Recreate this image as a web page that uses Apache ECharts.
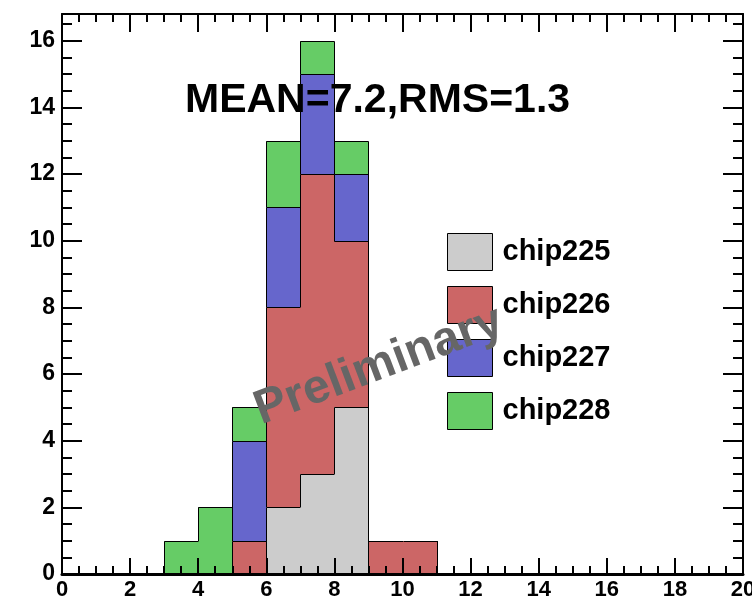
<!DOCTYPE html>
<html>
<head>
<meta charset="utf-8">
<script src="https://cdn.jsdelivr.net/npm/echarts@6/dist/echarts.min.js"></script>
<style>
  html, body { margin: 0; padding: 0; background: #fff; }
  #main { width: 752px; height: 599px; }
</style>
</head>
<body>
<div id="main"></div>
<script>
// bins of width 1, lower edges
var binStart = [3, 4, 5, 6, 7, 8, 9, 10];
var chip225 = [0, 0, 0, 2, 3, 5, 0, 0];
var chip226 = [0, 0, 1, 6, 9, 5, 1, 1];
var chip227 = [0, 0, 3, 3, 3, 2, 0, 0];
var chip228 = [1, 2, 1, 2, 1, 1, 0, 0];
var names = ['chip225', 'chip226', 'chip227', 'chip228'];
var colors = ['#cccccc', '#cc6666', '#6666cc', '#66cc66'];
var xTicks = [0, 2, 4, 6, 8, 10, 12, 14, 16, 18, 20];
var yTicks = [0, 2, 4, 6, 8, 10, 12, 14, 16];

var font = 'Liberation Sans';

// cumulative sums like a stack: each layer drawn from 0 up to its running total
var layers = [chip225, chip226, chip227, chip228];
var cumul = [];
var run = binStart.map(function () { return 0; });
layers.forEach(function (vals) {
    run = run.map(function (r, i) { return r + vals[i]; });
    cumul.push(run.slice());
});

// items: [x0, x1, previous bin total, total, isLast]
function layerItems(tot) {
    return tot.map(function (v, i) {
        return [binStart[i], binStart[i] + 1, i > 0 ? tot[i - 1] : 0, v, i === tot.length - 1 ? 1 : 0];
    });
}

// snap to pixels so neighbouring fills do not leave seams
function px(p) { return [Math.round(p[0]), Math.round(p[1])]; }
function half(p) { var q = px(p); return [q[0] + 0.5, q[1] + 0.5]; }

function renderLayer(params, api) {
    var x0 = api.value(0), x1 = api.value(1), prev = api.value(2), cum = api.value(3), last = api.value(4);
    var children = [];
    if (cum > 0) {
        var a = px(api.coord([x0, 0]));
        var b = px(api.coord([x1, cum]));
        children.push({
            type: 'rect',
            shape: { x: a[0], y: b[1], width: b[0] - a[0], height: a[1] - b[1] },
            style: { fill: api.visual('color') }
        });
    }
    var pts = [half(api.coord([x0, prev])), half(api.coord([x0, cum])), half(api.coord([x1, cum]))];
    if (last) pts.push(half(api.coord([x1, 0])));
    children.push({ type: 'polyline', shape: { points: pts }, style: { stroke: '#000', lineWidth: 1, fill: null } });
    return { type: 'group', children: children };
}

// top layer first, so the lower ones paint over it
var series = [];
for (var k = 3; k >= 0; k--) {
    series.push({
        name: names[k],
        type: 'custom',
        renderItem: renderLayer,
        xAxisIndex: 0,
        yAxisIndex: 0,
        itemStyle: { color: colors[k], borderColor: '#000', borderWidth: 1 },
        encode: { x: [0, 1], y: [3] },
        data: layerItems(cumul[k]),
        z: 2
    });
}

function xAx(pos, labels, lineW) {
    return {
        type: 'value', position: pos, min: 0, max: 20, interval: 2, z: 5,
        axisLine: { show: true, onZero: false, lineStyle: { color: '#000', width: lineW } },
        axisTick: { show: true, inside: true, length: pos === 'top' ? 18 : 16, lineStyle: { color: '#000', width: 2 } },
        minorTick: { show: true, splitNumber: 4, length: 8, lineStyle: { color: '#000', width: 2 } },
        axisLabel: {
            show: labels, margin: 5, color: '#000', fontFamily: font, fontWeight: 'bold', fontSize: 22,
            alignMinLabel: 'center', alignMaxLabel: 'center', hideOverlap: false,
            formatter: function (v) { return xTicks.indexOf(v) >= 0 ? String(v) : ''; }
        },
        splitLine: { show: false }
    };
}

function yAx(pos, major, labels, lineW) {
    return {
        type: 'value', position: pos, min: 0, max: 16.8, interval: major ? 2 : 0.5, z: 5,
        axisLine: { show: major, onZero: false, lineStyle: { color: '#000', width: lineW } },
        axisTick: { show: true, inside: true, length: major ? 20 : 10, lineStyle: { color: '#000', width: 2 } },
        axisLabel: {
            show: labels, margin: 7, color: '#000', fontFamily: font, fontWeight: 'bold', fontSize: 23,
            verticalAlignMinLabel: 'middle', verticalAlignMaxLabel: 'middle', hideOverlap: false,
            formatter: function (v) { return yTicks.indexOf(v) >= 0 ? String(v) : ''; }
        },
        splitLine: { show: false }
    };
}

var myChart = echarts.init(document.getElementById('main'));
myChart.setOption({
    animation: false,
    backgroundColor: '#fff',
    grid: { left: 62, right: 9, top: 14, bottom: 25, containLabel: false, outerBoundsMode: 'none' },
    xAxis: [xAx('bottom', true, 3), xAx('top', false, 2)],
    yAxis: [yAx('left', true, true, 2), yAx('left', false, false, 2), yAx('right', true, false, 2), yAx('right', false, false, 2)],
    legend: {
        orient: 'vertical',
        left: 442,
        top: 228,
        itemWidth: 45,
        itemHeight: 37,
        itemGap: 15,
        icon: 'rect',
        selectedMode: false,
        textStyle: { color: '#000', fontFamily: font, fontWeight: 'bold', fontSize: 29, padding: [0, 0, 0, 5] },
        data: names.map(function (n, k) {
            return { name: n, itemStyle: { color: colors[k], borderColor: '#000', borderWidth: 1 } };
        })
    },
    graphic: [
        {
            type: 'text', x: 185, y: 101, z: 100,
            style: { text: 'MEAN=7.2,RMS=1.3', fill: '#000', font: 'bold 41px "Liberation Sans"', align: 'left', verticalAlign: 'middle' }
        },
        {
            type: 'text', x: 379, y: 366, rotation: 0.36, z: 100,
            style: { text: 'Preliminary', fill: '#666666', font: 'bold 48px "Liberation Sans"', align: 'center', verticalAlign: 'middle' }
        }
    ],
    series: series
});
</script>
</body>
</html>
